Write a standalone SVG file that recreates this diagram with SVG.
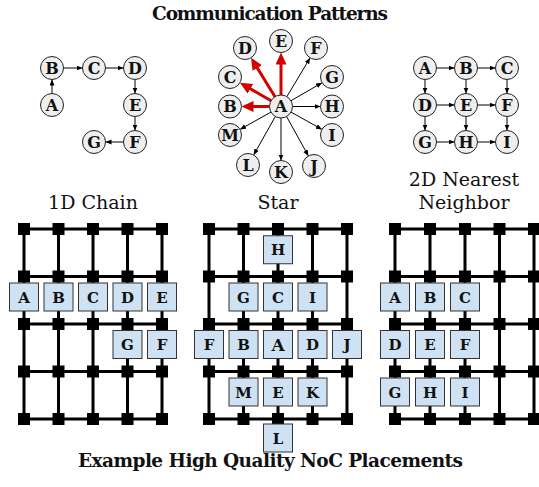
<svg xmlns="http://www.w3.org/2000/svg" xmlns:xlink="http://www.w3.org/1999/xlink" width="539" height="487" viewBox="0 0 539 487">
<style>
.bg{fill:#fff}
.title{font-family:"DejaVu Serif",serif;font-weight:bold;font-size:18.5px;text-anchor:middle;fill:#111}
.sub{font-family:"DejaVu Serif",serif;font-size:19px;text-anchor:middle;fill:#111}
.grid{fill:none;stroke:#000;stroke-width:3}
.rt{fill:#000}
.box rect{fill:#cfe2f3;stroke:#333;stroke-width:1}
.box text{font-family:"DejaVu Serif",serif;font-weight:bold;font-size:15px;text-anchor:middle;fill:#111}
.cn circle{fill:#eee;stroke:#222;stroke-width:1}
.cn text{font-family:"DejaVu Serif",serif;font-weight:bold;font-size:16px;text-anchor:middle;fill:#111}
.e{stroke:#000;stroke-width:1;fill:none;marker-end:url(#ah)}
.r{stroke:#d40000;stroke-width:3;fill:none;marker-end:url(#ahr)}
</style>
<defs>
<marker id="ah" markerUnits="userSpaceOnUse" markerWidth="7" markerHeight="6" refX="6" refY="2.5" orient="auto"><path d="M0,0 L6,2.5 L0,5 z" fill="#000"/></marker>
<marker id="ahr" markerUnits="userSpaceOnUse" markerWidth="14" markerHeight="12" refX="6" refY="5.5" orient="auto"><path d="M0,0 L12,5.5 L0,11 z" fill="#d40000"/></marker>
<rect id="rt" class="rt" x="-6" y="-6" width="12" height="12"/>
</defs>
<rect class="bg" x="0" y="0" width="539" height="487"/>
<text class="title" x="270" y="20" textLength="236">Communication Patterns</text>
<text class="title" x="270.5" y="467" textLength="385">Example High Quality NoC Placements</text>
<text class="sub" x="93" y="209">1D Chain</text>
<text class="sub" x="278" y="209">Star</text>
<text class="sub" x="464" y="186">2D Nearest</text>
<text class="sub" x="464" y="209">Neighbor</text>

<g id="connectors">
<line class="e" x1="52" y1="93.5" x2="52" y2="79.5"/>
<line class="e" x1="63.5" y1="68" x2="82.5" y2="68"/>
<line class="e" x1="105.5" y1="68" x2="123.5" y2="68"/>
<line class="e" x1="135" y1="79.5" x2="135" y2="93.5"/>
<line class="e" x1="135" y1="116.5" x2="135" y2="130.5"/>
<line class="e" x1="123.5" y1="142" x2="105.5" y2="142"/>

<line class="r" x1="281" y1="95" x2="281" y2="58.5"/>
<line class="r" x1="274.97" y1="96.71" x2="254.17" y2="62.9"/>
<line class="r" x1="271.04" y1="100.74" x2="245.16" y2="85.76"/>
<line class="r" x1="269.5" y1="106.5" x2="247.5" y2="106.5"/>
<line class="e" x1="286.9" y1="96.63" x2="310.1" y2="57.87"/>
<line class="e" x1="290.96" y1="100.74" x2="322.04" y2="82.76"/>
<line class="e" x1="292.5" y1="106.5" x2="320.5" y2="106.5"/>
<line class="e" x1="291.04" y1="112.11" x2="321.96" y2="129.39"/>
<line class="e" x1="286.58" y1="116.56" x2="308.42" y2="155.94"/>
<line class="e" x1="281" y1="118" x2="281" y2="160.5"/>
<line class="e" x1="275.35" y1="116.52" x2="253.65" y2="154.98"/>
<line class="e" x1="270.96" y1="112.11" x2="240.04" y2="129.39"/>

<line class="e" x1="436.5" y1="68" x2="454.5" y2="68"/>
<line class="e" x1="477.5" y1="68" x2="495.5" y2="68"/>
<line class="e" x1="436.5" y1="105" x2="454.5" y2="105"/>
<line class="e" x1="477.5" y1="105" x2="495.5" y2="105"/>
<line class="e" x1="436.5" y1="142" x2="454.5" y2="142"/>
<line class="e" x1="477.5" y1="142" x2="495.5" y2="142"/>
<line class="e" x1="425" y1="79.5" x2="425" y2="93.5"/>
<line class="e" x1="425" y1="116.5" x2="425" y2="130.5"/>
<line class="e" x1="466" y1="79.5" x2="466" y2="93.5"/>
<line class="e" x1="466" y1="116.5" x2="466" y2="130.5"/>
<line class="e" x1="507" y1="79.5" x2="507" y2="93.5"/>
<line class="e" x1="507" y1="116.5" x2="507" y2="130.5"/>
</g>

<g id="chain-graph" class="cn">
<g id="c1-A"><circle cx="52" cy="105" r="11.5"/><text x="52" y="110.5">A</text></g>
<g id="c1-B"><circle cx="52" cy="68" r="11.5"/><text x="52" y="73.5">B</text></g>
<g id="c1-C"><circle cx="94" cy="68" r="11.5"/><text x="94" y="73.5">C</text></g>
<g id="c1-D"><circle cx="135" cy="68" r="11.5"/><text x="135" y="73.5">D</text></g>
<g id="c1-E"><circle cx="135" cy="105" r="11.5"/><text x="135" y="110.5">E</text></g>
<g id="c1-F"><circle cx="135" cy="142" r="11.5"/><text x="135" y="147.5">F</text></g>
<g id="c1-G"><circle cx="94" cy="142" r="11.5"/><text x="94" y="147.5">G</text></g>
</g>

<g id="star-graph" class="cn">
<g id="s-A"><circle cx="281" cy="106.5" r="11.5"/><text x="281" y="112">A</text></g>
<g id="s-B"><circle cx="230" cy="106.5" r="11.5"/><text x="230" y="112">B</text></g>
<g id="s-C"><circle cx="230" cy="77" r="11.5"/><text x="230" y="82.5">C</text></g>
<g id="s-D"><circle cx="245" cy="48" r="11.5"/><text x="245" y="53.5">D</text></g>
<g id="s-E"><circle cx="281" cy="41" r="11.5"/><text x="281" y="46.5">E</text></g>
<g id="s-F"><circle cx="316" cy="48" r="11.5"/><text x="316" y="53.5">F</text></g>
<g id="s-G"><circle cx="332" cy="77" r="11.5"/><text x="332" y="82.5">G</text></g>
<g id="s-H"><circle cx="332" cy="106.5" r="11.5"/><text x="332" y="112">H</text></g>
<g id="s-I"><circle cx="332" cy="135" r="11.5"/><text x="332" y="140.5">I</text></g>
<g id="s-J"><circle cx="314" cy="166" r="11.5"/><text x="314" y="171.5">J</text></g>
<g id="s-K"><circle cx="281" cy="172" r="11.5"/><text x="281" y="177.5">K</text></g>
<g id="s-L"><circle cx="248" cy="165" r="11.5"/><text x="248" y="170.5">L</text></g>
<g id="s-M"><circle cx="230" cy="135" r="11.5"/><text x="230" y="140.5">M</text></g>
</g>

<g id="nn-graph" class="cn">
<g id="n-A"><circle cx="425" cy="68" r="11.5"/><text x="425" y="73.5">A</text></g>
<g id="n-B"><circle cx="466" cy="68" r="11.5"/><text x="466" y="73.5">B</text></g>
<g id="n-C"><circle cx="507" cy="68" r="11.5"/><text x="507" y="73.5">C</text></g>
<g id="n-D"><circle cx="425" cy="105" r="11.5"/><text x="425" y="110.5">D</text></g>
<g id="n-E"><circle cx="466" cy="105" r="11.5"/><text x="466" y="110.5">E</text></g>
<g id="n-F"><circle cx="507" cy="105" r="11.5"/><text x="507" y="110.5">F</text></g>
<g id="n-G"><circle cx="425" cy="142" r="11.5"/><text x="425" y="147.5">G</text></g>
<g id="n-H"><circle cx="466" cy="142" r="11.5"/><text x="466" y="147.5">H</text></g>
<g id="n-I"><circle cx="507" cy="142" r="11.5"/><text x="507" y="147.5">I</text></g>
</g>

<g id="mesh-grids">
<path class="grid" d="M24 229H162M24 276.5H162M24 324H162M24 371.5H162M24 419H162M24 229V419M58.5 229V419M93 229V419M127.5 229V419M162 229V419"/>
<path class="grid" d="M209 229H347M209 276.5H347M209 324H347M209 371.5H347M209 419H347M209 229V419M243.5 229V419M278 229V419M312.5 229V419M347 229V419"/>
<path class="grid" d="M395 229H534M395 276.5H534M395 324H534M395 371.5H534M395 419H534M395 229V419M430 229V419M465 229V419M499.5 229V419M534 229V419"/>
<g id="routers1">
<use href="#rt" x="24" y="229"/><use href="#rt" x="58.5" y="229"/><use href="#rt" x="93" y="229"/><use href="#rt" x="127.5" y="229"/><use href="#rt" x="162" y="229"/>
<use href="#rt" x="24" y="276.5"/><use href="#rt" x="58.5" y="276.5"/><use href="#rt" x="93" y="276.5"/><use href="#rt" x="127.5" y="276.5"/><use href="#rt" x="162" y="276.5"/>
<use href="#rt" x="24" y="324"/><use href="#rt" x="58.5" y="324"/><use href="#rt" x="93" y="324"/><use href="#rt" x="127.5" y="324"/><use href="#rt" x="162" y="324"/>
<use href="#rt" x="24" y="371.5"/><use href="#rt" x="58.5" y="371.5"/><use href="#rt" x="93" y="371.5"/><use href="#rt" x="127.5" y="371.5"/><use href="#rt" x="162" y="371.5"/>
<use href="#rt" x="24" y="419"/><use href="#rt" x="58.5" y="419"/><use href="#rt" x="93" y="419"/><use href="#rt" x="127.5" y="419"/><use href="#rt" x="162" y="419"/>
</g>
<g id="routers2">
<use href="#rt" x="209" y="229"/><use href="#rt" x="243.5" y="229"/><use href="#rt" x="278" y="229"/><use href="#rt" x="312.5" y="229"/><use href="#rt" x="347" y="229"/>
<use href="#rt" x="209" y="276.5"/><use href="#rt" x="243.5" y="276.5"/><use href="#rt" x="278" y="276.5"/><use href="#rt" x="312.5" y="276.5"/><use href="#rt" x="347" y="276.5"/>
<use href="#rt" x="209" y="324"/><use href="#rt" x="243.5" y="324"/><use href="#rt" x="278" y="324"/><use href="#rt" x="312.5" y="324"/><use href="#rt" x="347" y="324"/>
<use href="#rt" x="209" y="371.5"/><use href="#rt" x="243.5" y="371.5"/><use href="#rt" x="278" y="371.5"/><use href="#rt" x="312.5" y="371.5"/><use href="#rt" x="347" y="371.5"/>
<use href="#rt" x="209" y="419"/><use href="#rt" x="243.5" y="419"/><use href="#rt" x="278" y="419"/><use href="#rt" x="312.5" y="419"/><use href="#rt" x="347" y="419"/>
</g>
<g id="routers3">
<use href="#rt" x="395" y="229"/><use href="#rt" x="430" y="229"/><use href="#rt" x="465" y="229"/><use href="#rt" x="499.5" y="229"/><use href="#rt" x="534" y="229"/>
<use href="#rt" x="395" y="276.5"/><use href="#rt" x="430" y="276.5"/><use href="#rt" x="465" y="276.5"/><use href="#rt" x="499.5" y="276.5"/><use href="#rt" x="534" y="276.5"/>
<use href="#rt" x="395" y="324"/><use href="#rt" x="430" y="324"/><use href="#rt" x="465" y="324"/><use href="#rt" x="499.5" y="324"/><use href="#rt" x="534" y="324"/>
<use href="#rt" x="395" y="371.5"/><use href="#rt" x="430" y="371.5"/><use href="#rt" x="465" y="371.5"/><use href="#rt" x="499.5" y="371.5"/><use href="#rt" x="534" y="371.5"/>
<use href="#rt" x="395" y="419"/><use href="#rt" x="430" y="419"/><use href="#rt" x="465" y="419"/><use href="#rt" x="499.5" y="419"/><use href="#rt" x="534" y="419"/>
</g>
</g>

<g id="chain-place" class="box">
<g id="p1-A"><rect x="9.5" y="283" width="29" height="28"/><text x="24" y="302.5">A</text></g>
<g id="p1-B"><rect x="44" y="283" width="29" height="28"/><text x="58.5" y="302.5">B</text></g>
<g id="p1-C"><rect x="78.5" y="283" width="29" height="28"/><text x="93" y="302.5">C</text></g>
<g id="p1-D"><rect x="113" y="283" width="29" height="28"/><text x="127.5" y="302.5">D</text></g>
<g id="p1-E"><rect x="147.5" y="283" width="29" height="28"/><text x="162" y="302.5">E</text></g>
<g id="p1-G"><rect x="113" y="330.5" width="29" height="28"/><text x="127.5" y="350">G</text></g>
<g id="p1-F"><rect x="147.5" y="330.5" width="29" height="28"/><text x="162" y="350">F</text></g>
</g>

<g id="star-place" class="box">
<g id="p2-H"><rect x="263.5" y="235.75" width="29" height="28"/><text x="278" y="255.25">H</text></g>
<g id="p2-G"><rect x="229" y="283" width="29" height="28"/><text x="243.5" y="302.5">G</text></g>
<g id="p2-C"><rect x="263.5" y="283" width="29" height="28"/><text x="278" y="302.5">C</text></g>
<g id="p2-I"><rect x="298" y="283" width="29" height="28"/><text x="312.5" y="302.5">I</text></g>
<g id="p2-F"><rect x="194.5" y="330.5" width="29" height="28"/><text x="209" y="350">F</text></g>
<g id="p2-B"><rect x="229" y="330.5" width="29" height="28"/><text x="243.5" y="350">B</text></g>
<g id="p2-A"><rect x="263.5" y="330.5" width="29" height="28"/><text x="278" y="351" style="font-size:17px">A</text></g>
<g id="p2-D"><rect x="298" y="330.5" width="29" height="28"/><text x="312.5" y="350">D</text></g>
<g id="p2-J"><rect x="332.5" y="330.5" width="29" height="28"/><text x="347" y="350">J</text></g>
<g id="p2-M"><rect x="229" y="378" width="29" height="28"/><text x="243.5" y="397.5">M</text></g>
<g id="p2-E"><rect x="263.5" y="378" width="29" height="28"/><text x="278" y="397.5">E</text></g>
<g id="p2-K"><rect x="298" y="378" width="29" height="28"/><text x="312.5" y="397.5">K</text></g>
<g id="p2-L"><rect x="263.5" y="424" width="29" height="28"/><text x="278" y="443.5">L</text></g>
</g>

<g id="nn-place" class="box">
<g id="p3-A"><rect x="380.5" y="283" width="29" height="28"/><text x="395" y="302.5">A</text></g>
<g id="p3-B"><rect x="415.5" y="283" width="29" height="28"/><text x="430" y="302.5">B</text></g>
<g id="p3-C"><rect x="450.5" y="283" width="29" height="28"/><text x="465" y="302.5">C</text></g>
<g id="p3-D"><rect x="380.5" y="330.5" width="29" height="28"/><text x="395" y="350">D</text></g>
<g id="p3-E"><rect x="415.5" y="330.5" width="29" height="28"/><text x="430" y="350">E</text></g>
<g id="p3-F"><rect x="450.5" y="330.5" width="29" height="28"/><text x="465" y="350">F</text></g>
<g id="p3-G"><rect x="380.5" y="378" width="29" height="28"/><text x="395" y="397.5">G</text></g>
<g id="p3-H"><rect x="415.5" y="378" width="29" height="28"/><text x="430" y="397.5">H</text></g>
<g id="p3-I"><rect x="450.5" y="378" width="29" height="28"/><text x="465" y="397.5">I</text></g>
</g>
</svg>
